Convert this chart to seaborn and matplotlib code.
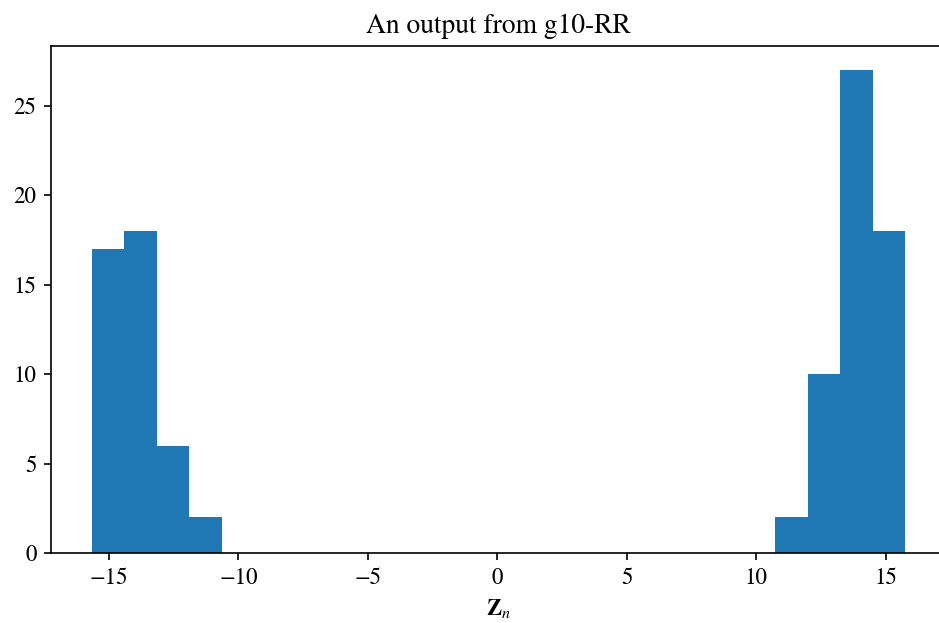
import numpy as np
import pandas as pd
import matplotlib
matplotlib.use("Agg")
import matplotlib.pyplot as plt
import seaborn as sns

# Histogram of Z_n: 25 equal-width bins between the sample extremes
z_min = -15.66
z_max = 15.75
n_bins = 25
bin_counts = [17, 18, 6, 2,
              0, 0, 0, 0, 0, 0, 0, 0, 0, 0, 0, 0, 0, 0, 0, 0, 0,
              2, 10, 27, 18]

title_text = "An output from g10-RR"
x_label = r"$\mathbf{Z}_n$"

plt.rcParams["font.family"] = ["STIXGeneral", "Liberation Serif", "DejaVu Serif"]
plt.rcParams["mathtext.fontset"] = "stix"
plt.rcParams["font.size"] = 11
plt.rcParams["axes.unicode_minus"] = True

edges = np.linspace(z_min, z_max, n_bins + 1)
centers = (edges[:-1] + edges[1:]) / 2
df = pd.DataFrame({"z": centers, "count": bin_counts})

fig = plt.figure(figsize=(939 / 150, 623 / 150), dpi=150)
ax = fig.add_axes([51 / 939, 70 / 623, 895 / 939, 507.3 / 623])

sns.histplot(data=df, x="z", weights="count", bins=list(edges), ax=ax,
             color="#1f77b4", alpha=1, edgecolor="none", linewidth=0)

ax.set_title(title_text)
ax.set_xlabel(x_label)
ax.set_ylabel("")
ax.set_xticks([-15, -10, -5, 0, 5, 10, 15])
ax.set_yticks([0, 5, 10, 15, 20, 25])

fig.savefig("out.png", dpi=150)
